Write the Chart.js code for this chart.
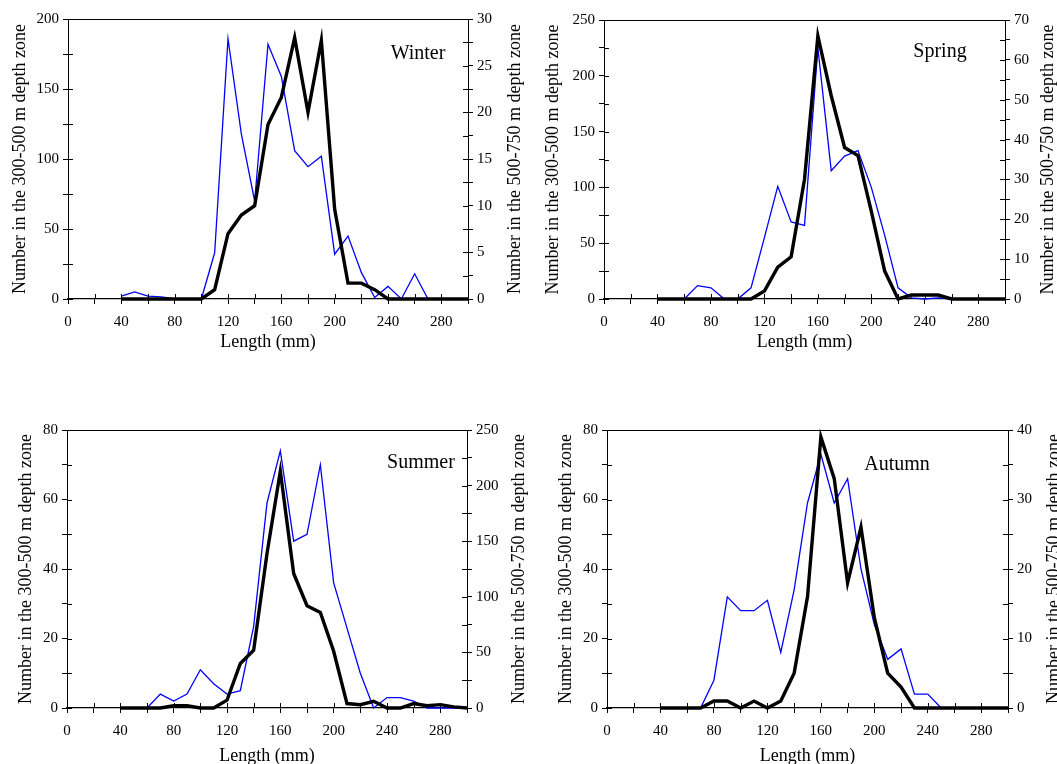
<!DOCTYPE html>
<html>
<head>
<meta charset="utf-8">
<script src="https://cdn.jsdelivr.net/npm/chart.js@4.4.1/dist/chart.umd.min.js"></script>
<style>
html, body { margin: 0; padding: 0; background: #ffffff; }
#wrap { position: relative; width: 1057px; height: 764px; overflow: hidden; background: #ffffff; }
#wrap canvas { position: absolute; left: 0; top: 0; }
</style>
</head>
<body>
<div id="wrap">
  <canvas id="c0" width="1057" height="764"></canvas>
  <canvas id="c1" width="1057" height="764"></canvas>
  <canvas id="c2" width="1057" height="764"></canvas>
  <canvas id="c3" width="1057" height="764"></canvas>
</div>
<script>
// ---------- DATA ----------
const lengths = [40, 50, 60, 70, 80, 90, 100, 110, 120, 130, 140, 150, 160, 170, 180, 190, 200, 210, 220, 230, 240, 250, 260, 270, 280, 290, 300];

// Number in the 300-500 m depth zone (left axis, thin blue)
const winterShallow = [2, 5, 2, 1.5, 0, 0, 0, 33, 186, 118, 70, 182, 159, 106, 94.5, 102, 32, 45, 19, 1, 9, 0, 18, 0, 0, 0, 0];
const springShallow = [0, 0, 0, 12, 10, 0, 0, 10, 55, 101, 69, 66, 225, 115, 128, 133, 100, 57, 10, 1, 0, 1, 0, 0, 0, 0, 0];
const summerShallow = [0, 0, 0, 4, 2, 4, 11, 7, 4, 5, 23.5, 59, 74, 48, 50, 70, 36, 23, 10, 0, 3, 3, 2, 0, 0, 0, 0];
const autumnShallow = [0, 0, 0, 0, 8, 32, 28, 28, 31, 16, 34, 59, 73, 59, 66, 40, 24, 14, 17, 4, 4, 0, 0, 0, 0, 0, 0];

// Number in the 500-750 m depth zone (right axis, thick black)
const winterDeep = [0, 0, 0, 0, 0, 0, 0, 1, 7, 9, 10, 18.7, 21.6, 28, 20, 27.7, 9.6, 1.7, 1.7, 1, 0, 0, 0, 0, 0, 0, 0];
const springDeep = [0, 0, 0, 0, 0, 0, 0, 0, 2, 8, 10.6, 30, 66, 51, 38, 36, 22, 7, 0, 1, 1, 1, 0, 0, 0, 0, 0];
const summerDeep = [0, 0, 0, 0, 2, 2, 0, 0, 7, 40, 52, 139, 213, 121, 92, 86, 51, 4, 3, 6, 0, 0, 4, 2, 3, 1, 0];
const autumnDeep = [0, 0, 0, 0, 1, 1, 0, 1, 0, 1, 5, 16, 39, 33, 18, 26, 13, 5, 3, 0, 0, 0, 0, 0, 0, 0, 0];

const seasons = ['Winter', 'Spring', 'Summer', 'Autumn'];
const xTitle = 'Length (mm)';
const leftTitle = 'Number in the 300-500 m depth zone';
const rightTitle = 'Number in the 500-750 m depth zone';

// axis ranges: [max, minor step, labelled step]
const leftAxes  = [[200, 25, 50], [250, 25, 50], [80, 10, 20], [80, 10, 20]];
const rightAxes = [[30, 2.5, 5], [70, 5, 10], [250, 25, 50], [40, 5, 10]];

// ---------- LAYOUT (pixels) ----------
const layouts = [
  { x0: 68, x1: 468, y0: 19, y1: 299, lt: 20, rt: 515, tx: 342, lab: [418, 54] },
  { x0: 604, x1: 1005, y0: 20, y1: 299, lt: 553, rt: 1048, tx: 342, lab: [940, 52] },
  { x0: 67, x1: 467, y0: 430, y1: 708, lt: 26, rt: 519, tx: 756, lab: [421, 463] },
  { x0: 607, x1: 1008, y0: 430, y1: 708, lt: 566, rt: 1054, tx: 756, lab: [897, 465] }
];

const FAMILY = "'Liberation Serif', 'Times New Roman', serif";
const tickFont = { family: FAMILY, size: 15 };
const titleFont = { family: FAMILY, size: 18 };
const TICK = 5;
const RW = 40;

const shallowSeries = [winterShallow, springShallow, summerShallow, autumnShallow];
const deepSeries = [winterDeep, springDeep, summerDeep, autumnDeep];

function pts(vals) { return lengths.map((x, i) => ({ x: x, y: vals[i] })); }

function makePlugin(L, season) {
  return {
    id: 'panelDecor',
    afterDraw(chart) {
      const ctx = chart.ctx;
      const a = chart.chartArea;
      ctx.save();
      // top frame line
      ctx.strokeStyle = '#000';
      ctx.lineWidth = 1;
      ctx.beginPath();
      ctx.moveTo(a.left, a.top + 0.5);
      ctx.lineTo(a.right, a.top + 0.5);
      ctx.stroke();
      // inward halves of tick marks
      const sx = chart.scales.x, sy = chart.scales.y, sy2 = chart.scales.y2;
      ctx.beginPath();
      sx.ticks.forEach(t => {
        const p = Math.round(sx.getPixelForValue(t.value)) + 0.5;
        ctx.moveTo(p, a.bottom); ctx.lineTo(p, a.bottom - TICK);
      });
      sy.ticks.forEach(t => {
        const p = Math.round(sy.getPixelForValue(t.value)) + 0.5;
        ctx.moveTo(a.left, p); ctx.lineTo(a.left + TICK, p);
      });
      sy2.ticks.forEach(t => {
        const p = Math.round(sy2.getPixelForValue(t.value)) + 0.5;
        ctx.moveTo(a.right, p); ctx.lineTo(a.right - TICK, p);
      });
      ctx.stroke();
      // right axis title (reads bottom to top)
      ctx.fillStyle = '#000';
      ctx.font = titleFont.size + 'px ' + FAMILY;
      ctx.textAlign = 'center';
      ctx.textBaseline = 'middle';
      ctx.translate(L.rt, (a.top + a.bottom) / 2);
      ctx.rotate(-Math.PI / 2);
      ctx.fillText(rightTitle, 0, 0);
      ctx.restore();
      // season label
      ctx.save();
      ctx.fillStyle = '#000';
      ctx.font = '20px ' + FAMILY;
      ctx.textAlign = 'center';
      ctx.textBaseline = 'middle';
      ctx.fillText(season, L.lab[0], L.lab[1]);
      ctx.restore();
    }
  };
}

seasons.forEach((season, i) => {
  const L = layouts[i];
  const [lMax, lStep, lMajor] = leftAxes[i];
  const [rMax, rStep, rMajor] = rightAxes[i];
  const half = titleFont.size * 1.2 / 2;
  const padLeft = L.lt - half;
  const padBottom = 764 - (L.tx + half);
  new Chart(document.getElementById('c' + i), {
    type: 'line',
    data: {
      datasets: [
        { label: '500-750 m', data: pts(deepSeries[i]), yAxisID: 'y2', borderColor: '#000000', backgroundColor: '#000000',
          borderWidth: 3.4, pointRadius: 0, tension: 0, order: 0, clip: false, borderJoinStyle: 'miter' },
        { label: '300-500 m', data: pts(shallowSeries[i]), yAxisID: 'y', borderColor: '#0000ff', backgroundColor: '#0000ff',
          borderWidth: 1.3, pointRadius: 0, tension: 0, order: 1, clip: false }
      ]
    },
    options: {
      responsive: false,
      animation: false,
      events: [],
      layout: { padding: { left: padLeft, top: L.y0, right: 1057 - L.x1 - RW, bottom: padBottom } },
      plugins: { legend: { display: false }, tooltip: { enabled: false }, title: { display: false } },
      scales: {
        x: {
          type: 'linear', position: 'bottom', min: 0, max: 300,
          ticks: { stepSize: 20, autoSkip: false, maxRotation: 0, padding: 9, color: '#000', font: tickFont,
                   callback: v => (v % 40 === 0 && v < 300) ? String(v) : '' },
          grid: { drawOnChartArea: false, drawTicks: true, tickLength: TICK, color: '#000' },
          border: { display: true, color: '#000', width: 1.3 },
          title: { display: true, text: xTitle, color: '#000', font: titleFont, padding: 0 },
          afterFit(s) { s.height = L.tx + half - L.y1; }
        },
        y: {
          type: 'linear', position: 'left', min: 0, max: lMax,
          ticks: { stepSize: lStep, autoSkip: false, padding: 4, color: '#000', font: tickFont,
                   callback: v => (Math.abs(v % lMajor) < 1e-6) ? String(v) : '' },
          grid: { drawOnChartArea: false, drawTicks: true, tickLength: TICK, color: '#000' },
          border: { display: true, color: '#000', width: 1 },
          title: { display: true, text: leftTitle, color: '#000', font: titleFont, padding: 0 },
          afterFit(s) { s.width = L.x0 - padLeft; }
        },
        y2: {
          type: 'linear', position: 'right', min: 0, max: rMax,
          ticks: { stepSize: rStep, autoSkip: false, padding: 4, color: '#000', font: tickFont,
                   callback: v => (Math.abs(v % rMajor) < 1e-6) ? String(v) : '' },
          grid: { drawOnChartArea: false, drawTicks: true, tickLength: TICK, color: '#000' },
          border: { display: true, color: '#000', width: 1 },
          title: { display: false },
          afterFit(s) { s.width = RW; }
        }
      }
    },
    plugins: [makePlugin(L, season)]
  });
});
</script>
</body>
</html>
